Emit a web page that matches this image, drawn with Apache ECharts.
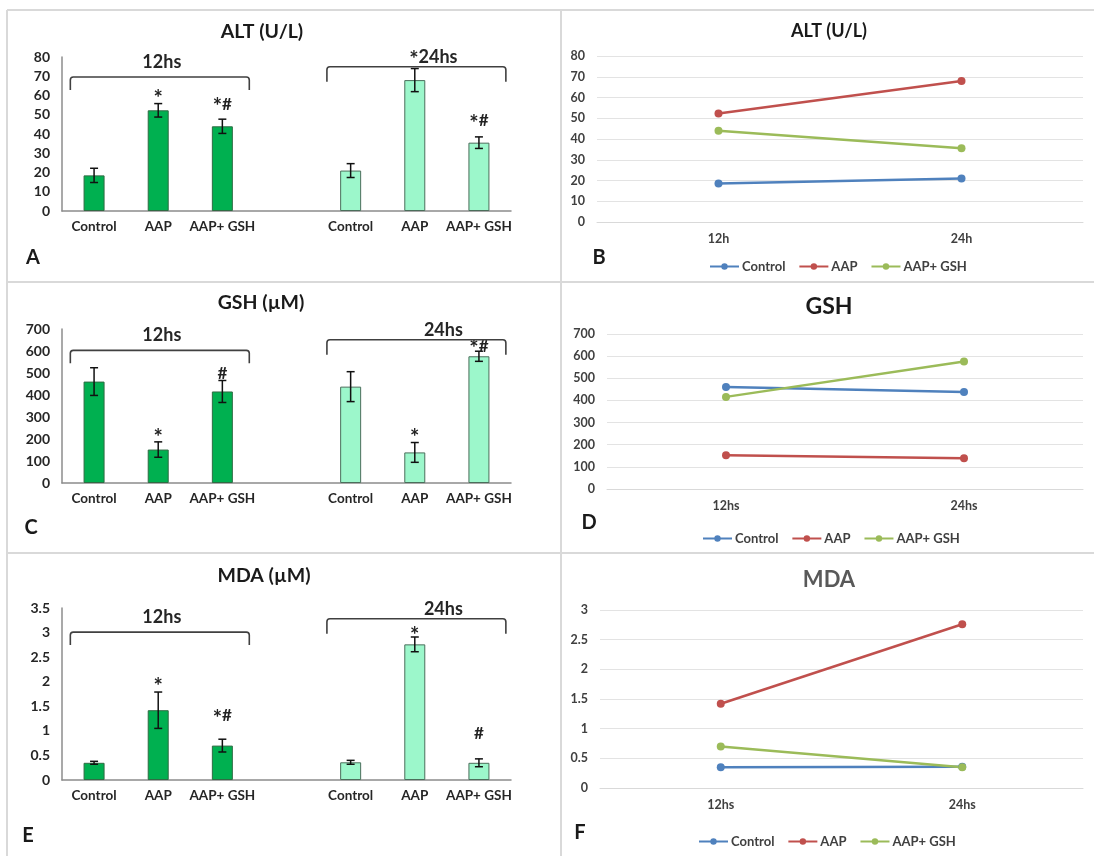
<!DOCTYPE html>
<html><head><meta charset="utf-8">
<script src="https://cdn.jsdelivr.net/npm/echarts@6/dist/echarts.min.js"></script>
<style>html,body{margin:0;padding:0;background:#fff}#c{width:1094px;height:856px}</style>
</head><body><div id="c"></div>
<script>
// ---------------- data ----------------
const groups = ['Control', 'AAP', 'AAP+ GSH'];
const barCategories = ['Control', 'AAP', 'AAP+ GSH', '', 'Control', 'AAP', 'AAP+ GSH'];
const timeLabelsALT = ['12h', '24h'];
const timeLabels = ['12hs', '24hs'];

const alt12 = [18.5, 52.3, 44.0];
const alt24 = [21.0, 68.0, 35.5];
const alt12Err = [3.7, 3.5, 3.7];
const alt24Err = [3.6, 6.0, 3.0];

const gsh12 = [461, 152, 416];
const gsh24 = [438, 139, 576];
const gsh12Err = [63, 35, 50];
const gsh24Err = [68, 45, 23];

const mda12 = [0.35, 1.42, 0.70];
const mda24 = [0.36, 2.76, 0.35];
const mda12Err = [0.03, 0.37, 0.13];
const mda24Err = [0.04, 0.15, 0.08];

const altTicks = {min: 0, max: 80, interval: 10};
const gshTicks = {min: 0, max: 700, interval: 100};
const mdaBarTicks = {min: 0, max: 3.5, interval: 0.5};
const mdaLineTicks = {min: 0, max: 3, interval: 0.5};

// significance marks (category slot, value where the mark sits)
const annotA = [{cat: 1, text: '*', value: 60.6}, {cat: 2, text: '*#', value: 55.4}, {cat: 6, text: '*#', value: 47.0}];
const annotC = [{cat: 1, text: '*', value: 228}, {cat: 2, text: '#', value: 496}, {cat: 5, text: '*', value: 228}, {cat: 6, text: '*#', value: 621}];
const annotE = [{cat: 1, text: '*', value: 2.0}, {cat: 2, text: '*#', value: 1.31}, {cat: 5, text: '*', value: 3.04}, {cat: 6, text: '#', value: 0.95}];

// time brackets (category span, value of bracket top)
const bracketsA = [{from: 0, to: 2, value: 69.6, label: '12hs'}, {from: 4, to: 6, value: 74.9, label: '*24hs'}];
const bracketsC = [{from: 0, to: 2, value: 603, label: '12hs'}, {from: 4, to: 6, value: 651, label: '24hs'}];
const bracketsE = [{from: 0, to: 2, value: 3.01, label: '12hs'}, {from: 4, to: 6, value: 3.28, label: '24hs'}];

// ---------------- styles ----------------
const FONT = 'Lato, "Open Sans", sans-serif';
const DARK = '#00B050', LIGHT = '#9CF7CB';
const LINE_COLORS = ['#4F81BD', '#C0504D', '#9BBB59'];
const LABEL_DX = {'12hs': 2, '24hs': 27, '*24hs': 17};

const chart = echarts.init(document.getElementById('c'), null, {renderer: 'canvas'});

const grids = [
  {left: 62, top: 57, width: 449, height: 154},
  {left: 597, top: 56, width: 486, height: 166},
  {left: 62, top: 329, width: 449, height: 154},
  {left: 607, top: 334, width: 476, height: 155},
  {left: 62, top: 608, width: 449, height: 172},
  {left: 600, top: 610, width: 483, height: 178}
];

function starRich(text) {
  return text.split('').map(ch => ch === '*' ? '{s|*}' : '{h|' + ch + '}').join('');
}

function barX(gi) {
  return {type: 'category', gridIndex: gi, data: barCategories,
    axisLine: {lineStyle: {color: '#8c8c8c', width: 1.5}}, axisTick: {show: false},
    axisLabel: {margin: 9, fontFamily: FONT, fontWeight: 'bold', fontSize: 13.5, color: '#262626', interval: 0}};
}
function barY(gi, t) {
  return {type: 'value', gridIndex: gi, min: t.min, max: t.max, interval: t.interval,
    axisLine: {show: true, lineStyle: {color: '#8c8c8c', width: 1.5}}, axisTick: {show: false}, splitLine: {show: false},
    axisLabel: {margin: 12, fontFamily: FONT, fontWeight: 'bold', fontSize: 14, color: '#262626'}};
}
function lineX(gi, labels) {
  return {type: 'category', gridIndex: gi, data: labels, boundaryGap: true,
    axisLine: {lineStyle: {color: '#d9d9d9', width: 1}}, axisTick: {show: false},
    axisLabel: {margin: 10, fontFamily: FONT, fontWeight: 'bold', fontSize: 12.5, color: '#404040'}};
}
function lineY(gi, t) {
  return {type: 'value', gridIndex: gi, min: t.min, max: t.max, interval: t.interval,
    axisLine: {show: false}, axisTick: {show: false},
    splitLine: {lineStyle: {color: '#e3e3e3', width: 1}},
    axisLabel: {margin: 12, fontFamily: FONT, fontWeight: 'bold', fontSize: 12.5, color: '#404040'}};
}

function barSeries(gi, m12, m24) {
  const data = [];
  m12.forEach(v => data.push({value: v, itemStyle: {color: DARK, borderColor: '#2f6b43', borderWidth: 1}}));
  data.push('-');
  m24.forEach(v => data.push({value: v, itemStyle: {color: LIGHT, borderColor: '#4b6e5b', borderWidth: 1}}));
  return {type: 'bar', xAxisIndex: gi, yAxisIndex: gi, barWidth: 21, data: data, silent: true};
}

function errSeries(gi, m12, e12, m24, e24) {
  const data = [];
  m12.forEach((v, i) => data.push([i, v, e12[i]]));
  m24.forEach((v, i) => data.push([i + 4, v, e24[i]]));
  return {type: 'custom', xAxisIndex: gi, yAxisIndex: gi, data: data, encode: {x: 0, y: 1}, z: 5, silent: true,
    renderItem: function (params, api) {
      const c = api.value(0), m = api.value(1), e = api.value(2);
      const t = api.coord([c, m + e]), b = api.coord([c, m - e]);
      const w = 4, st = {stroke: '#111', lineWidth: 1.5};
      return {type: 'group', children: [
        {type: 'line', shape: {x1: t[0], y1: t[1], x2: b[0], y2: b[1]}, style: st},
        {type: 'line', shape: {x1: t[0] - w, y1: t[1], x2: t[0] + w, y2: t[1]}, style: st},
        {type: 'line', shape: {x1: b[0] - w, y1: b[1], x2: b[0] + w, y2: b[1]}, style: st}
      ]};
    }};
}

const RICH = {
  s: {fontFamily: FONT, fontWeight: 'bold', fontSize: 22, fill: '#222', padding: [6, 0, 0, 0], verticalAlign: 'middle'},
  h: {fontFamily: FONT, fontWeight: 'bold', fontSize: 17, fill: '#222', verticalAlign: 'middle'}
};
const RICH_BIG = {
  s: {fontFamily: FONT, fontWeight: 'bold', fontSize: 22, fill: '#262626', padding: [6, 0, 0, 0]},
  h: {fontFamily: FONT, fontWeight: 'bold', fontSize: 18, fill: '#262626'}
};

function annotSeries(gi, annots) {
  return {type: 'custom', xAxisIndex: gi, yAxisIndex: gi, data: annots.map(a => [a.cat, a.value]),
    encode: {x: 0, y: 1}, z: 6, silent: true,
    renderItem: function (params, api) {
      const a = annots[params.dataIndex];
      const p = api.coord([api.value(0), api.value(1)]);
      const dy = a.text === '*' ? 2 : 0;
      return {type: 'text', x: p[0], y: p[1] + dy,
        style: {text: starRich(a.text), rich: RICH, align: 'center', verticalAlign: 'middle'}};
    }};
}

function bracketSeries(gi, brs) {
  return {type: 'custom', xAxisIndex: gi, yAxisIndex: gi, data: brs.map(b => [b.from, b.to, b.value]),
    encode: {x: [0, 1], y: 2}, z: 6, silent: true,
    renderItem: function (params, api) {
      const b = brs[params.dataIndex];
      const p0 = api.coord([api.value(0), api.value(2)]);
      const p1 = api.coord([api.value(1), api.value(2)]);
      const band = api.size([1, 0])[0];
      const x0 = p0[0] - 0.37 * band, x1 = p1[0] + 0.42 * band, y = p0[1];
      const drop = params.dataIndex === 0 ? 13 : 15, r = 3;
      const path = 'M' + x0 + ' ' + (y + drop) + ' L' + x0 + ' ' + (y + r) + ' Q' + x0 + ' ' + y + ' ' + (x0 + r) + ' ' + y +
        ' L' + (x1 - r) + ' ' + y + ' Q' + x1 + ' ' + y + ' ' + x1 + ' ' + (y + r) + ' L' + x1 + ' ' + (y + drop);
      const gap = params.dataIndex === 0 ? 15 : 10;
      const label = b.label.charAt(0) === '*' ? '{s|*}{h|' + b.label.slice(1) + '}' : '{h|' + b.label + '}';
      return {type: 'group', children: [
        {type: 'path', shape: {pathData: path}, style: {stroke: '#404040', lineWidth: 1.6, fill: null}},
        {type: 'text', x: (x0 + x1) / 2 + (LABEL_DX[b.label] || 0), y: y - gap,
          style: {text: label, rich: RICH_BIG, align: 'center', verticalAlign: 'middle'}}
      ]};
    }};
}

function lineSeries(gi, m12, m24) {
  return groups.map((g, i) => ({
    type: 'line', name: g, xAxisIndex: gi, yAxisIndex: gi, data: [m12[i], m24[i]],
    symbol: 'circle', symbolSize: 8, color: LINE_COLORS[i],
    lineStyle: {width: 2.5, color: LINE_COLORS[i]}, itemStyle: {color: LINE_COLORS[i]}, silent: true
  }));
}

function legendAt(left, top) {
  return {left: left, top: top, data: groups, itemWidth: 29, itemHeight: 8, itemGap: 13, selectedMode: false,
    textStyle: {fontFamily: FONT, fontWeight: 'bold', fontSize: 13, color: '#404040', padding: [0, 0, 0, -2]}};
}

function txt(x, y, text, size, color) {
  return {type: 'text', x: x, y: y, silent: true,
    style: {text: text, fontFamily: FONT, fontWeight: 'bold', fontSize: size, fill: color || '#1a1a1a', align: 'center', verticalAlign: 'middle'}};
}
function lineEl(x1, y1, x2, y2) {
  return {type: 'line', silent: true, shape: {x1: x1, y1: y1, x2: x2, y2: y2}, style: {stroke: '#d9d9d9', lineWidth: 2}};
}

const option = {
  animation: false,
  backgroundColor: '#ffffff',
  grid: grids,
  xAxis: [barX(0), lineX(1, timeLabelsALT), barX(2), lineX(3, timeLabels), barX(4), lineX(5, timeLabels)],
  yAxis: [barY(0, altTicks), lineY(1, altTicks), barY(2, gshTicks), lineY(3, gshTicks), barY(4, mdaBarTicks), lineY(5, mdaLineTicks)],
  legend: [legendAt(704, 255), legendAt(697, 527), legendAt(693, 830)],
  series: [
    barSeries(0, alt12, alt24), errSeries(0, alt12, alt12Err, alt24, alt24Err), annotSeries(0, annotA), bracketSeries(0, bracketsA),
    barSeries(2, gsh12, gsh24), errSeries(2, gsh12, gsh12Err, gsh24, gsh24Err), annotSeries(2, annotC), bracketSeries(2, bracketsC),
    barSeries(4, mda12, mda24), errSeries(4, mda12, mda12Err, mda24, mda24Err), annotSeries(4, annotE), bracketSeries(4, bracketsE),
    ...lineSeries(1, alt12, alt24), ...lineSeries(3, gsh12, gsh24), ...lineSeries(5, mda12, mda24)
  ],
  graphic: [
    lineEl(7, 10, 1094, 10), lineEl(7, 10, 7, 856), lineEl(561, 10, 561, 856),
    lineEl(7, 282, 1094, 282), lineEl(7, 553, 1094, 553),
    txt(262, 32, 'ALT (U/L)', 19.5), txt(829, 31, 'ALT (U/L)', 18),
    txt(261, 303, 'GSH (\u00B5M)', 19.5), txt(829, 307, 'GSH', 23),
    txt(264, 576, 'MDA (\u00B5M)', 19.5), txt(829, 580, 'MDA', 22, '#595959'),
    txt(33, 258, 'A', 20), txt(599, 258, 'B', 20),
    txt(31, 528, 'C', 20), txt(589, 523, 'D', 20),
    txt(28, 836, 'E', 20), txt(580, 833, 'F', 20)
  ]
};
chart.setOption(option);
</script>
</body></html>
